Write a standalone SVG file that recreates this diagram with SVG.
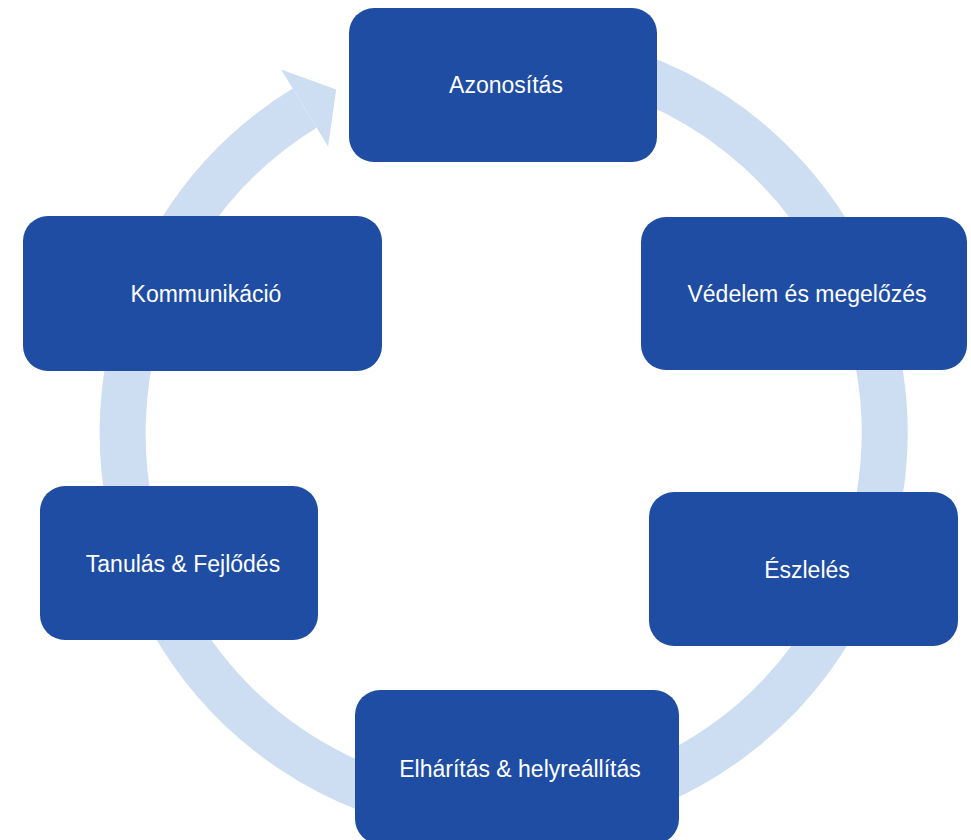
<svg xmlns="http://www.w3.org/2000/svg" width="971" height="840" viewBox="0 0 971 840">
<style>
.box{fill:#1E4DA3;}
.lbl{fill:#FFFFFF;font-family:"Liberation Sans",Arial,sans-serif;font-size:23px;text-anchor:middle;}
.ring{fill:none;stroke:#CDDEF3;stroke-width:46;}
.head{fill:#CDDEF3;}
</style>
<rect width="971" height="840" fill="#FFFFFF"/>
<g id="connectors">
<path class="ring" d="M404.9,65.0 A381,381 0 1 1 304.6,108.1"/>
<polygon class="head" points="281.1,69.6 336.2,89.5 328.1,146.4"/>
</g>
<g id="node-azonositas">
<rect class="box" x="349" y="8" width="308" height="154" rx="25" ry="25"/>
<text class="lbl" x="506" y="93">Azonosítás</text>
</g>
<g id="node-vedelem">
<rect class="box" x="641" y="217" width="326" height="153" rx="25" ry="25"/>
<text class="lbl" x="807" y="302">Védelem és megelőzés</text>
</g>
<g id="node-eszleles">
<rect class="box" x="649" y="492" width="309" height="154" rx="25" ry="25"/>
<text class="lbl" x="807" y="578">Észlelés</text>
</g>
<g id="node-elharitas">
<rect class="box" x="355" y="690" width="324" height="154" rx="25" ry="25"/>
<text class="lbl" x="520" y="777">Elhárítás &amp; helyreállítás</text>
</g>
<g id="node-tanulas">
<rect class="box" x="40" y="486" width="278" height="154" rx="25" ry="25"/>
<text class="lbl" x="183" y="572">Tanulás &amp; Fejlődés</text>
</g>
<g id="node-kommunikacio">
<rect class="box" x="23" y="216" width="359" height="155" rx="25" ry="25"/>
<text class="lbl" x="206" y="302">Kommunikáció</text>
</g>
</svg>
